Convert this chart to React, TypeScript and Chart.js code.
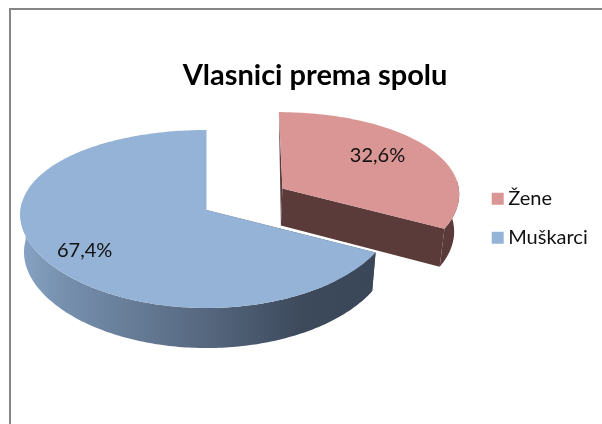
import React, { useEffect, useRef } from "react";
import { Chart, registerables } from "chart.js";

Chart.register(...registerables);

const categories = ["Žene", "Muškarci"];
const shares = [32.6, 67.4];
const sliceColors = ["#d99694", "#95b3d7"];
const chartTitle = "Vlasnici prema spolu";

// Projection of the pie's disc on to the page
const APEX = { x: 206.5, y: 210 };
const RX = 186;
const RY = 88.1;
const PERSPECTIVE_X = 0.05;
const PERSPECTIVE_Y = 0.101;
const BASE = { sx: 0.98, sy: 1.025, dy: 37.6 };
const SLICE_WIDTH = [0.96, 1];
const LABEL_PLACE = [
  { frac: 0.67, nudgeX: -7, nudgeY: -5 },
  { frac: 0.77, nudgeX: 3, nudgeY: 4 },
];

const project = (u: number, v: number) => ({
  X: (RX * u) / (1 - PERSPECTIVE_X * v),
  Y: (RY * v) / (1 - PERSPECTIVE_Y * v),
});
const topPoint = (u: number, v: number) => {
  const p = project(u, v);
  return { x: APEX.x + p.X, y: APEX.y + p.Y };
};
const basePoint = (u: number, v: number) => {
  const p = project(u, v);
  return { x: APEX.x + p.X * BASE.sx, y: APEX.y + p.Y * BASE.sy + BASE.dy };
};

const tracePath = (ctx: CanvasRenderingContext2D, pts: { x: number; y: number }[]) => {
  ctx.beginPath();
  pts.forEach((p, i) => (i ? ctx.lineTo(p.x, p.y) : ctx.moveTo(p.x, p.y)));
  ctx.closePath();
};

const wallFill = (ctx: CanvasRenderingContext2D, index: number) => {
  if (index === 0) return "#5a3b3a";
  const g = ctx.createLinearGradient(20, 0, 372, 0);
  g.addColorStop(0, "#88a3c4");
  g.addColorStop(0.12, "#7690ae");
  g.addColorStop(0.45, "#5c6f88");
  g.addColorStop(0.8, "#3d4a5c");
  g.addColorStop(1, "#3a4759");
  return g;
};

const pie3dPlugin = {
  id: "pie3d",
  beforeDraw(chart: any) {
    const { ctx } = chart;
    ctx.save();
    ctx.fillStyle = "#868686";
    ctx.fillRect(9, 8, 593, 2);
    ctx.fillRect(9, 8, 2, 416);
    ctx.restore();
  },
  afterLayout(chart: any) {
    const t = chart.titleBlock;
    t.left = 28;
    t.right = 602;
    t.top = 58.6;
    t.bottom = 94;
    const l = chart.legend;
    l.left = 478.2;
    l.right = 602;
    l.top = 169.7;
    l.bottom = 280;
  },
  beforeDatasetsDraw(chart: any) {
    const { ctx } = chart;
    const arcs = chart.getDatasetMeta(0).data;
    const sections = arcs.map((arc: any, index: number) => {
      const R = arc.outerRadius;
      const start = arc.startAngle;
      const end = arc.endAngle;
      const mid = (start + end) / 2;
      const ox = (Math.cos(mid) * arc.options.offset) / R;
      const oy = (Math.sin(mid) * arc.options.offset) / R;
      const disc: number[][] = [];
      const steps = Math.ceil(((end - start) * 180) / Math.PI);
      for (let s = 0; s <= steps; s++) {
        const a = start + ((end - start) * s) / steps;
        disc.push([ox + Math.cos(a) * SLICE_WIDTH[index], oy + Math.sin(a), Math.sin(a)]);
      }
      return { index, ox, oy, disc, mid };
    });

    ctx.save();
    sections.forEach(({ index, ox, oy, disc }: any) => {
      const fill = wallFill(ctx, index);
      const apexTop = topPoint(ox, oy);
      const apexBase = basePoint(ox, oy);
      const first = disc[0];
      const last = disc[disc.length - 1];

      if (index === 0) {
        // sliver behind the back edge, then the front-facing cut
        ctx.fillStyle = fill;
        tracePath(ctx, [apexTop, topPoint(first[0], first[1]), apexBase]);
        ctx.fill();
        tracePath(ctx, [apexTop, topPoint(last[0], last[1]), basePoint(last[0], last[1]), apexBase]);
        ctx.fill();
      } else {
        ctx.fillStyle = "#7a94b5";
        tracePath(ctx, [apexTop, topPoint(last[0], last[1]), apexBase]);
        ctx.fill();
        ctx.fillStyle = fill;
        tracePath(ctx, [apexTop, topPoint(first[0], first[1]), basePoint(first[0], first[1]), apexBase]);
        ctx.fill();
      }
      // outer wall: only the part that faces the viewer
      const front = disc.filter((d: number[]) => d[2] > -0.1);
      ctx.fillStyle = fill;
      tracePath(ctx, [
        ...front.map((d: number[]) => topPoint(d[0], d[1])),
        ...front.slice().reverse().map((d: number[]) => basePoint(d[0], d[1])),
      ]);
      ctx.fill();
      // upper face
      ctx.fillStyle = sliceColors[index];
      tracePath(ctx, [apexTop, ...disc.map((d: number[]) => topPoint(d[0], d[1]))]);
      ctx.fill();
    });

    // value labels
    ctx.fillStyle = "#111111";
    ctx.font = "20px Lato";
    ctx.textAlign = "center";
    ctx.textBaseline = "middle";
    sections.forEach(({ index, ox, oy, mid }: any) => {
      const place = LABEL_PLACE[index];
      const p = topPoint(ox + Math.cos(mid) * place.frac, oy + Math.sin(mid) * place.frac);
      const text = shares[index].toFixed(1).replace(".", ",") + "%";
      ctx.fillText(text, p.x + place.nudgeX, p.y + place.nudgeY);
    });
    ctx.restore();
    return false;
  },
};

export default function App() {
  const ref = useRef<HTMLCanvasElement>(null);
  useEffect(() => {
    const chart = new Chart(ref.current as HTMLCanvasElement, {
      type: "pie",
      data: {
        labels: categories,
        datasets: [
          {
            data: shares,
            backgroundColor: sliceColors,
            borderWidth: 0,
            offset: [90, 0],
          },
        ],
      },
      options: {
        animation: false,
        responsive: false,
        events: [],
        radius: 186,
        plugins: {
          tooltip: { enabled: false },
          title: {
            display: true,
            text: chartTitle,
            color: "#000000",
            padding: 0,
            font: { family: "Lato", size: 29, weight: "bold" },
          },
          legend: {
            display: true,
            position: "right",
            align: "start",
            labels: {
              usePointStyle: true,
              pointStyle: "rect",
              boxWidth: 1,
              boxHeight: 12,
              padding: 19,
              color: "#111111",
              font: { family: "Lato", size: 20 },
            },
          },
        },
      },
      plugins: [pie3dPlugin],
    } as any);
    return () => chart.destroy();
  }, []);
  return (
    <canvas
      ref={ref}
      width={602}
      height={424}
      style={{ position: "fixed", left: 0, top: 0, display: "block", background: "#ffffff" }}
    />
  );
}
